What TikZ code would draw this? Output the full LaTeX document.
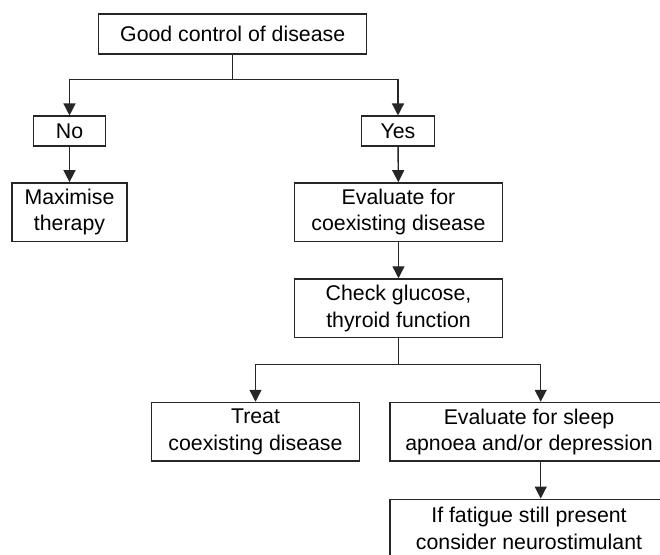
\documentclass[tikz,border=0pt]{standalone}
\usepackage{fontspec}
\setmainfont{Liberation Sans}
\usetikzlibrary{arrows.meta,positioning}

\begin{document}
\begin{tikzpicture}
%Fatigue flow chart
	[
	 %Styles
	 x=1pt, y=-1pt,
	 line width=1.4pt,
	 inner sep=0pt,
	 box_node/.style={rectangle,draw=black!85,align=center,font=\fontsize{21.3}{26.5}\selectfont},
	 small_node/.style={box_node,minimum width=72.5pt,minimum height=29.7pt},
	 wide_node/.style={box_node,minimum height=58.7pt},
	 link/.style={draw=black!85},
	 arrow_link/.style={link,-{Triangle[width=12pt,length=12pt]}}
	]
	\useasboundingbox (0,0) rectangle (660,554);
	\clip (0,0) rectangle (660,554);

	%Node placement
	%Level 1
	\node (good) [box_node, minimum width=268pt, minimum height=40pt] at (232.7,34) {Good control of disease};
	%Level 2
	\node (no) [small_node] at (69.5,131) {No};
	\node (yes) [small_node] at (398,131) {Yes};
	%Level 3
	\node (maximise) [wide_node, minimum width=115.3pt] at (69.5,212.2) {Maximise\\therapy};
	\node (evalco) [wide_node, minimum width=208pt] at (398.5,212.2) {Evaluate for\\coexisting disease};
	%Level 4
	\node (check) [wide_node, minimum width=208pt] at (398.5,308.3) {Check glucose,\\thyroid function};
	%Level 5
	\node (treat) [wide_node, minimum width=207.6pt] at (255.5,431.8) {Treat\\coexisting disease};
	\node (sleep) [wide_node, minimum width=278pt] at (529,431.8) {Evaluate for sleep\\apnoea and/or depression};
	%Level 6
	\node (fatigue) [wide_node, minimum width=278pt] at (529,528.6) {If fatigue still present\\consider neurostimulant};

	%Edges
	\coordinate (split1) at (232.7,79.3);
	\coordinate (split2) at (398.5,364.7);
	\draw[link] (good) -- (split1);
	\draw[arrow_link] (split1) -| (no);
	\draw[arrow_link] (split1) -| (yes);
	\draw[arrow_link] (no) -- (maximise);
	\draw[arrow_link] (yes) -- (evalco);
	\draw[arrow_link] (evalco) -- (check);
	\draw[link] (check) -- (split2);
	\draw[arrow_link] (split2) -| (treat);
	\draw[arrow_link] (split2) -| ([xshift=11.7pt]sleep.north);
	\draw[arrow_link] ([xshift=11.7pt]sleep.south) -- ([xshift=11.7pt]fatigue.north);
\end{tikzpicture}
\end{document}
